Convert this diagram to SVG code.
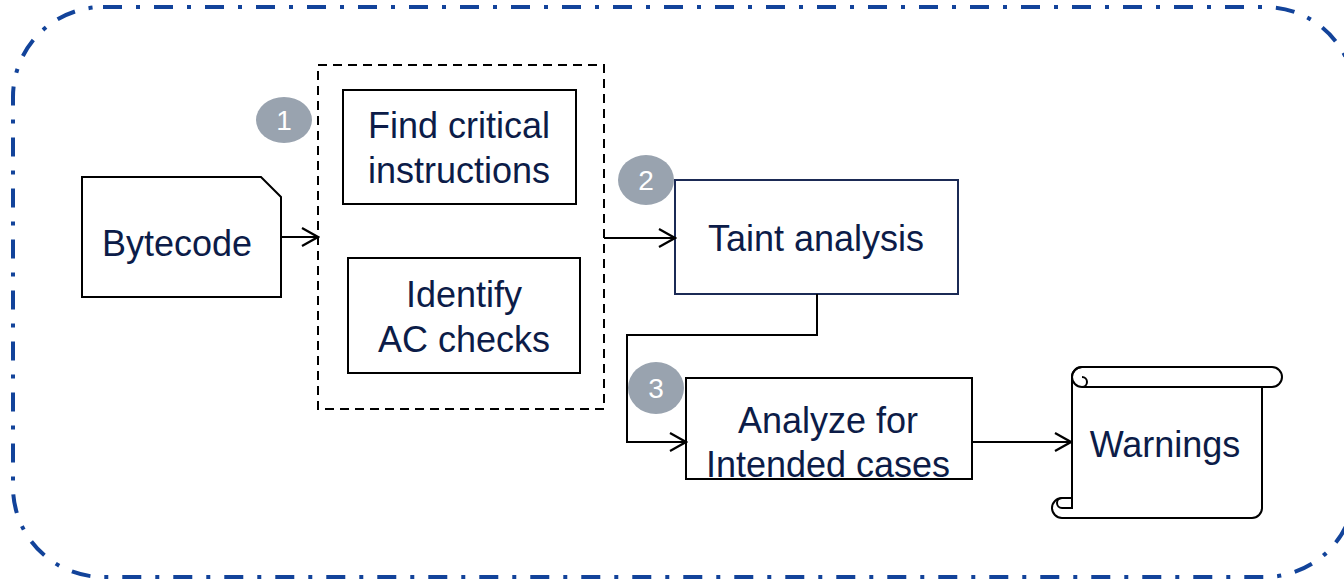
<svg xmlns="http://www.w3.org/2000/svg" width="1344" height="580" viewBox="0 0 1344 580">
<defs>
<style>
.frame{fill:none;stroke:#12439A;stroke-width:4;stroke-dasharray:19 14 4 14}
.box{fill:#fff;stroke:#000;stroke-width:2}
.navy{fill:#fff;stroke:#1B2A55;stroke-width:2}
.dash{fill:none;stroke:#000;stroke-width:2;stroke-dasharray:9 6}
.lbl{font-family:"Liberation Sans",Arial,sans-serif;font-size:36px;fill:#0C1C48;text-anchor:middle}
.num{font-family:"Liberation Sans",Arial,sans-serif;font-size:28px;fill:#fff;text-anchor:middle}
.badge{fill:#99A3AF}
.conn{fill:none;stroke:#000;stroke-width:2}
</style>
<marker id="arr" viewBox="0 0 20 20" refX="18" refY="10" markerWidth="20" markerHeight="20" markerUnits="userSpaceOnUse" orient="auto">
<path d="M2,1 L18,10 L2,19" fill="none" stroke="#000" stroke-width="2.2"/>
</marker>
</defs>
<rect class="frame" x="13" y="7" width="1342" height="570" rx="90" ry="90"/>
<g id="group1">
<rect class="dash" x="318" y="65" width="286" height="344"/>
</g>
<g id="bytecode">
<path class="box" d="M82,177 H261 L281,197 V297 H82 Z"/>
<text class="lbl" x="177" y="256">Bytecode</text>
</g>
<g id="find">
<rect class="box" x="343" y="90" width="233" height="114"/>
<text class="lbl" x="459" y="138">Find critical</text>
<text class="lbl" x="459" y="183">instructions</text>
</g>
<g id="identify">
<rect class="box" x="348" y="258" width="232" height="115"/>
<text class="lbl" x="464" y="307">Identify</text>
<text class="lbl" x="464" y="352">AC checks</text>
</g>
<g id="taint">
<rect class="navy" x="675" y="180" width="283" height="114"/>
<text class="lbl" x="816" y="251">Taint analysis</text>
</g>
<g id="analyze">
<rect class="box" x="686" y="378" width="286" height="101"/>
<text class="lbl" x="828" y="433">Analyze for</text>
<text class="lbl" x="828" y="477">Intended cases</text>
</g>
<g id="warnings">
<path class="box" d="M1072,377 A10,10 0 0 1 1082,367 H1272 A10,10 0 0 1 1272,387 H1262 V508 A10,10 0 0 1 1252,518 H1062 A10,10 0 0 1 1062,498 H1072 Z"/>
<path class="conn" d="M1082,367 A10,10 0 0 0 1082,387 H1262 M1082,377 A5,5 0 0 1 1082,387 M1072,498 V508 H1062 A5,5 0 0 1 1062,498"/>
<text class="lbl" x="1165" y="457">Warnings</text>
</g>
<g id="badge1">
<ellipse class="badge" cx="284" cy="120" rx="28" ry="23"/>
<text class="num" x="284" y="130">1</text>
</g>
<g id="badge2">
<ellipse class="badge" cx="646" cy="180" rx="28" ry="25"/>
<text class="num" x="646" y="190">2</text>
</g>
<g id="badge3">
<ellipse class="badge" cx="656" cy="388" rx="28" ry="26"/>
<text class="num" x="656" y="398">3</text>
</g>
<g id="connectors">
<path class="conn" d="M281,237 H318" marker-end="url(#arr)"/>
<path class="conn" d="M604,238 H675" marker-end="url(#arr)"/>
<path class="conn" d="M817,294 V335 H627 V442 H686" marker-end="url(#arr)"/>
<path class="conn" d="M972,442 H1071" marker-end="url(#arr)"/>
</g>
</svg>
